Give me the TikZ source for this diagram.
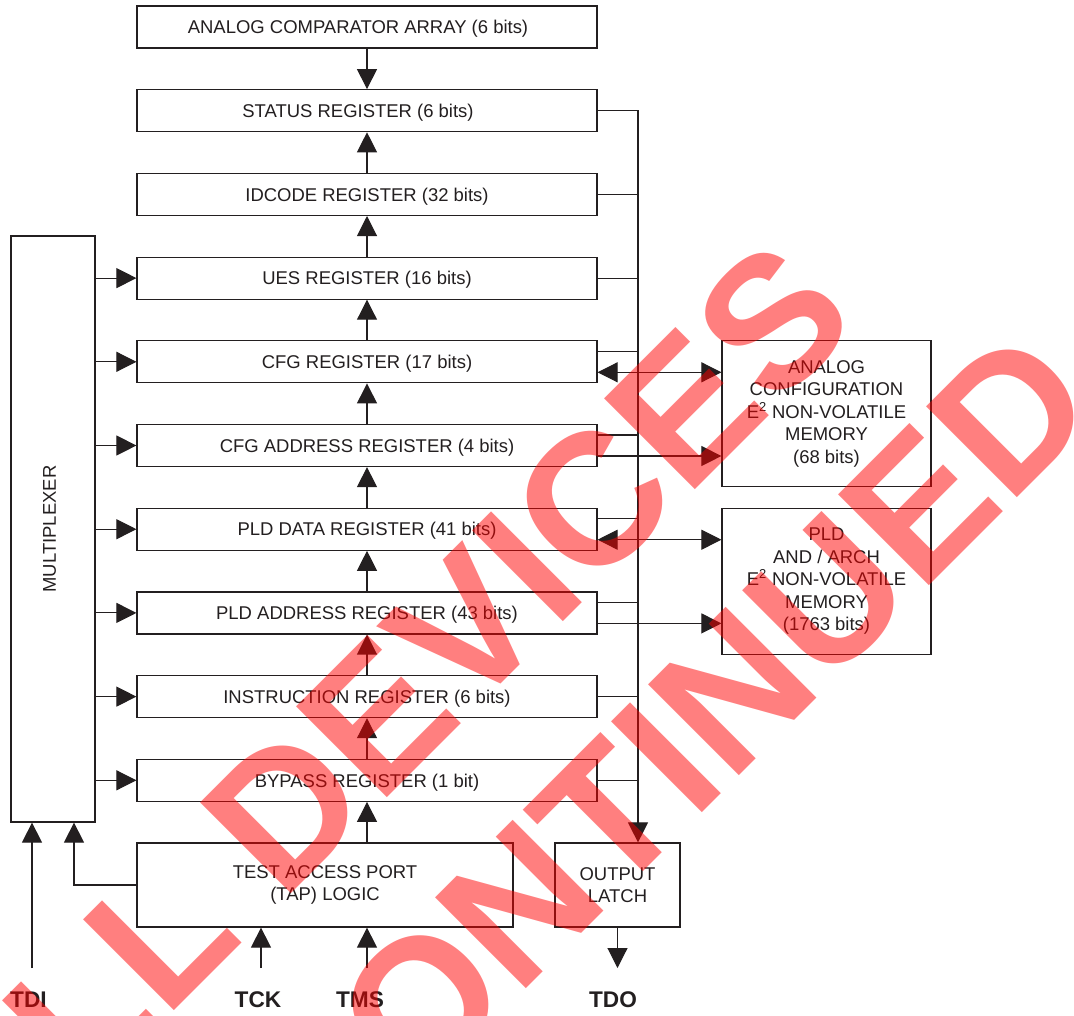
\documentclass[tikz,border=0pt]{standalone}
\usepackage{fontspec}
\setmainfont{Liberation Sans}
\usetikzlibrary{arrows.meta,calc}
\definecolor{ink}{HTML}{231F20}
\begin{document}
\begin{tikzpicture}[x=0.75pt,y=-0.75pt,
  every node/.style={text=ink},
  box/.style={draw=ink, line width=0.9pt, inner sep=0pt, font=\fontsize{13.85}{16.9}\selectfont, align=center},
  reg/.style={box, minimum width=345pt, minimum height=31.5pt, text depth=0pt},
  ln/.style={draw=ink, line width=0.8pt},
  arr/.style={ln, -{Triangle[length=15pt,width=15pt]}},
  darr/.style={ln, {Triangle[length=15pt,width=15pt]}-{Triangle[length=15pt,width=15pt]}},
  pin/.style={font=\fontsize{17}{20}\selectfont\bfseries, anchor=base, inner sep=0pt},
  wm/.style={rotate=45, anchor=base, inner sep=0pt, text=red, text opacity=0.5, font=\fontsize{140}{168}\selectfont\bfseries}
]
\fill[white] (0,0) rectangle (1074,1015);
\useasboundingbox (0,0) rectangle (1074,1015);

% registers
\node[reg] (r0) at (367,27) {\hspace*{-13.5pt}ANALOG COMPARATOR ARRAY (6 bits)};
\node[reg] (r1) at (367,110.7) {\hspace*{-13.5pt}STATUS REGISTER (6 bits)};
\node[reg] (r2) at (367,194.4) {IDCODE REGISTER (32 bits)};
\node[reg] (r3) at (367,278.1) {UES REGISTER (16 bits)};
\node[reg] (r4) at (367,361.8) {CFG REGISTER (17 bits)};
\node[reg] (r5) at (367,445.5) {CFG ADDRESS REGISTER (4 bits)};
\node[reg] (r6) at (367,529.2) {PLD DATA REGISTER (41 bits)};
\node[reg] (r7) at (367,612.9) {PLD ADDRESS REGISTER (43 bits)};
\node[reg] (r8) at (367,696.6) {INSTRUCTION REGISTER (6 bits)};
\node[reg] (r9) at (367,780.3) {BYPASS REGISTER (1 bit)};

% other blocks
\node[box, minimum width=282pt, minimum height=63pt] (tap) at (325,885) {TEST ACCESS PORT\\(TAP) LOGIC};
\node[box, minimum width=93.75pt, minimum height=63pt] (latch) at (617.5,885) {OUTPUT\\LATCH};
\node[box, minimum width=63pt, minimum height=439.5pt] (mux) at (53,529) {};
\node[font=\fontsize{13.85}{16.9}\selectfont, inner sep=0pt] (muxt) at (49.5,529) {\rotatebox{90}{MULTIPLEXER}};
\node[box, minimum width=156.75pt, minimum height=109.5pt] (acm) at (826.5,413.8) {ANALOG\\CONFIGURATION\\E\textsuperscript{2} NON-VOLATILE\\MEMORY\\(68 bits)};
\node[box, minimum width=156.75pt, minimum height=109.5pt] (pldm) at (826.5,581.2) {PLD\\AND / ARCH\\E\textsuperscript{2} NON-VOLATILE\\MEMORY\\(1763 bits)};

% pins
\node[pin] (tdi) at (28.5,1007) {TDI};
\node[pin] (tck) at (258,1007) {TCK};
\node[pin] (tms) at (360,1007) {TMS};
\node[pin] (tdo) at (613,1007) {TDO};
\coordinate (tdiin) at (32,968);
\coordinate (tckin) at (261,968);
\coordinate (tmsin) at (367,968);
\coordinate (tdoout) at (617.5,968);
\coordinate (bus) at (638,0);
\coordinate (tapm) at (74,0);

% vertical chain
\draw[arr] (r0.south) -- (r1.north);
\foreach \a/\b in {r2/r1,r3/r2,r4/r3,r5/r4,r6/r5,r7/r6,r8/r7,r9/r8}
  \draw[arr] (\a.north) -- (\b.south);
\draw[arr] (r9.south |- tap.north) -- (r9.south);

% multiplexer outputs
\foreach \r in {r3,r4,r5,r6,r7,r8,r9}
  \draw[arr] (mux.east |- \r.west) -- (\r.west);

% bus to output latch
\draw[arr] (r1.east) -- (bus |- r1.east) -- (bus |- latch.north);
\foreach \r in {r2,r3,r8,r9}
  \draw[ln] (\r.east) -- (bus |- \r.east);
\foreach \r in {r4,r5,r6,r7}
  \draw[ln] ($(\r.east)+(0,-10.5)$) -- ($(bus |- \r.east)+(0,-10.5)$);

% memory links
\draw[darr] ($(r4.east)+(0,10.5)$) -- ($(acm.west |- r4.east)+(0,10.5)$);
\draw[arr] ($(r5.east)+(0,10.5)$) -- ($(acm.west |- r5.east)+(0,10.5)$);
\draw[darr] ($(r6.east)+(0,10.5)$) -- ($(pldm.west |- r6.east)+(0,10.5)$);
\draw[arr] ($(r7.east)+(0,10.5)$) -- ($(pldm.west |- r7.east)+(0,10.5)$);

% pins connections
\draw[arr] (tdiin) -- (tdiin |- mux.south);
\draw[arr] (tap.west) -- (tapm |- tap.west) -- (tapm |- mux.south);
\draw[arr] (tckin) -- (tckin |- tap.south);
\draw[arr] (tmsin) -- (tmsin |- tap.south);
\draw[arr] (latch.south) -- (tdoout);

% watermark
\begin{scope}
\clip (0,0) rectangle (1074,1015);
\node[wm] (wm1) at (426,759) {ALL DEVICES};
\node[wm] (wm2) at (602,913) {DISCONTINUED};
\end{scope}
\end{tikzpicture}
\end{document}
